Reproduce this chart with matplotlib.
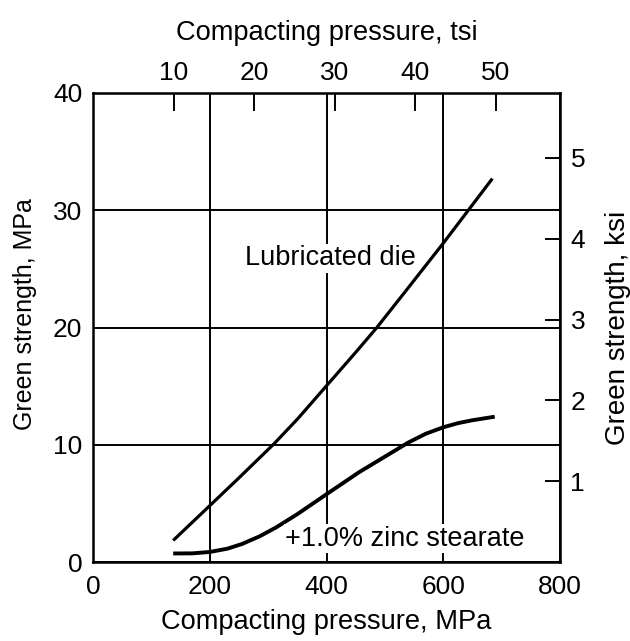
import matplotlib
matplotlib.use("Agg")
import matplotlib.pyplot as plt

plt.rcParams['font.family'] = ['Liberation Sans', 'DejaVu Sans']

# Lubricated die (green strength MPa vs compacting pressure MPa)
lub_x = [137, 200, 250, 310, 350, 400, 450, 486, 540, 600, 642, 684]
lub_y = [1.85, 4.83, 7.2, 10.1, 12.2, 15.05, 17.9, 20.0, 23.4, 27.2, 29.95, 32.7]

# +1.0% zinc stearate
zn_x = [137, 170, 200, 230, 255, 285, 313, 350, 400, 455, 500, 540, 570, 600, 625, 650, 688]
zn_y = [0.74, 0.75, 0.87, 1.15, 1.55, 2.2, 2.95, 4.1, 5.8, 7.65, 9.0, 10.2, 10.95, 11.5, 11.85, 12.1, 12.4]

x_ticks = [0, 200, 400, 600, 800]
y_ticks = [0, 10, 20, 30, 40]
tsi_ticks = [10, 20, 30, 40, 50]
ksi_ticks = [1, 2, 3, 4, 5]

MPA_PER_TSI = 13.79
MPA_PER_KSI = 6.895

FS_TICK = 19
FS_XLAB = 19.6
FS_ANN = 19.5

fig = plt.figure(figsize=(6.3, 6.41), dpi=100)
ax = fig.add_axes([0.148, 0.123, 0.741, 0.732])

ax.set_xlim(0, 800)
ax.set_ylim(0, 40)
ax.set_xticks(x_ticks)
ax.set_yticks(y_ticks)
ax.grid(True, color='black', linewidth=1.4)
ax.tick_params(axis='x', length=0, labelsize=FS_TICK, pad=9)
ax.tick_params(axis='y', length=0, labelsize=FS_TICK, pad=8)
for s in ax.spines.values():
    s.set_linewidth(1.8)

ax.plot(lub_x, lub_y, color='black', linewidth=2.3, solid_capstyle='butt')
ax.plot(zn_x, zn_y, color='black', linewidth=2.8, solid_capstyle='butt')

ax.text(406, 25.9, 'Lubricated die', fontsize=FS_ANN, ha='center', va='center',
        bbox=dict(facecolor='white', edgecolor='none', pad=1))
ax.text(534, 2.0, '+1.0% zinc stearate', fontsize=FS_ANN, ha='center', va='center',
        bbox=dict(facecolor='white', edgecolor='none', pad=1))

ax.set_xlabel('Compacting pressure, MPa', fontsize=FS_XLAB, labelpad=7.5)
ax.set_ylabel('Green strength, MPa', fontsize=18)
ax.yaxis.set_label_coords(-0.121, 0.529)

top = ax.secondary_xaxis('top', functions=(lambda m: m / MPA_PER_TSI, lambda t: t * MPA_PER_TSI))
top.set_xticks(tsi_ticks)
top.tick_params(direction='in', length=13, width=1.4, labelsize=FS_TICK, pad=6)
top.set_xlabel('Compacting pressure, tsi', fontsize=FS_XLAB, labelpad=15)

right = ax.secondary_yaxis('right', functions=(lambda m: m / MPA_PER_KSI, lambda k: k * MPA_PER_KSI))
right.set_yticks(ksi_ticks)
right.tick_params(direction='in', length=11, width=1.4, labelsize=FS_TICK, pad=7.5)
right.set_ylabel('Green strength, ksi', fontsize=20, labelpad=14)

fig.savefig('out.png', dpi=100)
